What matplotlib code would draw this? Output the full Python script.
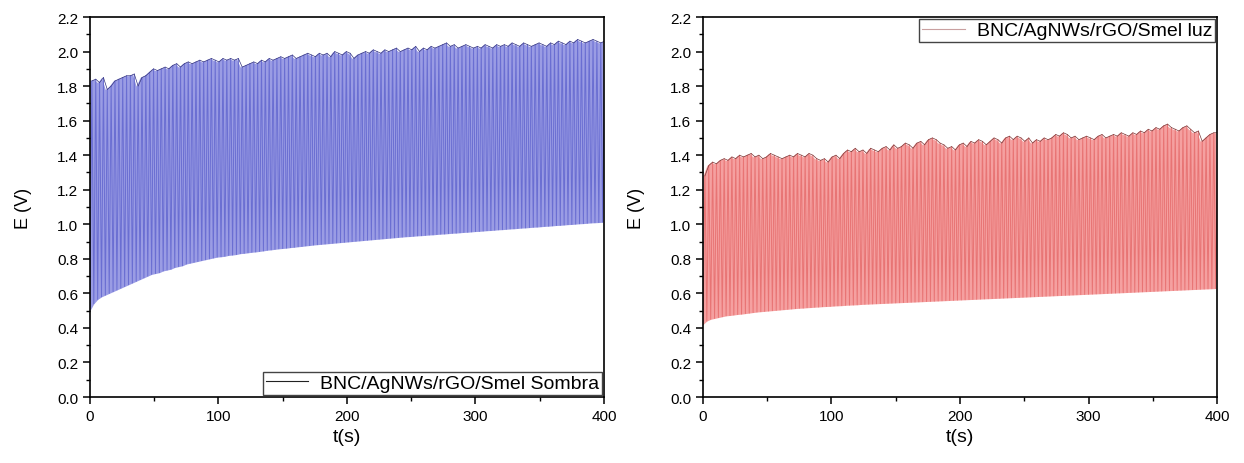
import numpy as np
import matplotlib.pyplot as plt
from matplotlib.lines import Line2D
from matplotlib.ticker import MultipleLocator

plt.rcParams['font.family'] = ['Liberation Sans', 'DejaVu Sans']

# one charge/discharge cycle every 3 s: trough at t, peak half a period later
period = 3.0

# left panel (Sombra): peak and trough of every cycle
sombra_peak = [
    1.83, 1.84, 1.82, 1.85, 1.78, 1.80, 1.83, 1.84, 1.85, 1.86,
    1.86, 1.87, 1.80, 1.85, 1.86, 1.88, 1.90, 1.89, 1.90, 1.91,
    1.90, 1.92, 1.93, 1.91, 1.93, 1.94, 1.93, 1.94, 1.95, 1.94,
    1.95, 1.96, 1.95, 1.94, 1.96, 1.95, 1.96, 1.95, 1.96, 1.91,
    1.92, 1.93, 1.94, 1.93, 1.95, 1.94, 1.96, 1.95, 1.96, 1.97,
    1.96, 1.97, 1.98, 1.96, 1.97, 1.98, 1.99, 1.98, 1.97, 1.99,
    1.98, 1.99, 1.97, 2.00, 1.99, 1.98, 2.00, 1.99, 1.96, 1.98,
    1.99, 2.00, 1.99, 2.01, 2.00, 1.99, 2.01, 2.00, 2.01, 2.02,
    2.00, 2.01, 2.02, 2.01, 2.03, 2.00, 2.02, 2.01, 2.03, 2.02,
    2.03, 2.04, 2.05, 2.03, 2.04, 2.02, 2.03, 2.04, 2.03, 2.02,
    2.03, 2.02, 2.04, 2.03, 2.02, 2.04, 2.03, 2.04, 2.03, 2.05,
    2.04, 2.03, 2.05, 2.04, 2.03, 2.04, 2.05, 2.04, 2.03, 2.05,
    2.04, 2.06, 2.05, 2.04, 2.06, 2.05, 2.07, 2.06, 2.05, 2.06,
    2.07, 2.06, 2.05, 2.06,
]
sombra_trough = [
    0.500, 0.540, 0.565, 0.580, 0.590, 0.600, 0.610, 0.620, 0.630, 0.640,
    0.650, 0.660, 0.670, 0.680, 0.690, 0.700, 0.710, 0.715, 0.720, 0.730,
    0.735, 0.740, 0.750, 0.755, 0.760, 0.770, 0.775, 0.780, 0.785, 0.790,
    0.795, 0.800, 0.805, 0.810, 0.812, 0.815, 0.820, 0.822, 0.825, 0.830,
    0.832, 0.835, 0.838, 0.840, 0.843, 0.846, 0.850, 0.852, 0.855, 0.858,
    0.860, 0.862, 0.865, 0.867, 0.870, 0.872, 0.875, 0.877, 0.880, 0.882,
    0.884, 0.886, 0.888, 0.890, 0.892, 0.894, 0.896, 0.898, 0.900, 0.902,
    0.904, 0.906, 0.908, 0.910, 0.912, 0.914, 0.916, 0.918, 0.920, 0.922,
    0.924, 0.926, 0.928, 0.929, 0.931, 0.933, 0.934, 0.936, 0.938, 0.939,
    0.941, 0.943, 0.944, 0.946, 0.948, 0.949, 0.951, 0.953, 0.954, 0.956,
    0.958, 0.959, 0.961, 0.963, 0.964, 0.966, 0.968, 0.969, 0.971, 0.973,
    0.974, 0.976, 0.978, 0.979, 0.981, 0.983, 0.984, 0.986, 0.988, 0.989,
    0.991, 0.993, 0.994, 0.996, 0.998, 0.999, 1.001, 1.003, 1.004, 1.006,
    1.008, 1.009, 1.010, 1.012,
]

# right panel (luz)
luz_peak = [
    1.28, 1.34, 1.36, 1.35, 1.37, 1.38, 1.37, 1.39, 1.38, 1.40,
    1.39, 1.40, 1.41, 1.39, 1.40, 1.38, 1.39, 1.41, 1.40, 1.39,
    1.38, 1.39, 1.40, 1.39, 1.41, 1.40, 1.39, 1.41, 1.40, 1.38,
    1.37, 1.38, 1.36, 1.39, 1.40, 1.38, 1.41, 1.43, 1.42, 1.44,
    1.42, 1.43, 1.41, 1.44, 1.43, 1.42, 1.44, 1.45, 1.43, 1.46,
    1.44, 1.45, 1.47, 1.46, 1.44, 1.47, 1.48, 1.46, 1.49, 1.50,
    1.49, 1.47, 1.46, 1.44, 1.45, 1.43, 1.46, 1.47, 1.45, 1.48,
    1.47, 1.49, 1.48, 1.46, 1.48, 1.50, 1.49, 1.47, 1.50, 1.51,
    1.49, 1.51, 1.50, 1.48, 1.50, 1.47, 1.49, 1.48, 1.50, 1.49,
    1.50, 1.52, 1.51, 1.53, 1.52, 1.50, 1.51, 1.49, 1.50, 1.51,
    1.50, 1.49, 1.51, 1.52, 1.50, 1.51, 1.52, 1.51, 1.53, 1.52,
    1.51, 1.53, 1.52, 1.54, 1.53, 1.55, 1.54, 1.56, 1.55, 1.57,
    1.58, 1.56, 1.55, 1.54, 1.56, 1.57, 1.55, 1.53, 1.54, 1.48,
    1.50, 1.52, 1.53, 1.53,
]
luz_trough = [
    0.420, 0.440, 0.450, 0.455, 0.460, 0.465, 0.470, 0.472, 0.475, 0.478,
    0.480, 0.483, 0.486, 0.489, 0.492, 0.494, 0.496, 0.498, 0.500, 0.502,
    0.504, 0.506, 0.508, 0.510, 0.512, 0.514, 0.515, 0.517, 0.518, 0.520,
    0.521, 0.523, 0.524, 0.525, 0.527, 0.528, 0.529, 0.531, 0.532, 0.533,
    0.534, 0.536, 0.537, 0.538, 0.539, 0.540, 0.541, 0.542, 0.543, 0.544,
    0.545, 0.546, 0.547, 0.548, 0.549, 0.550, 0.551, 0.552, 0.553, 0.554,
    0.555, 0.556, 0.557, 0.558, 0.559, 0.560, 0.561, 0.562, 0.563, 0.564,
    0.565, 0.566, 0.567, 0.568, 0.569, 0.570, 0.571, 0.572, 0.573, 0.574,
    0.575, 0.576, 0.577, 0.578, 0.579, 0.580, 0.581, 0.582, 0.583, 0.584,
    0.585, 0.586, 0.587, 0.588, 0.589, 0.590, 0.591, 0.592, 0.593, 0.594,
    0.595, 0.596, 0.597, 0.598, 0.599, 0.600, 0.601, 0.602, 0.603, 0.604,
    0.605, 0.606, 0.607, 0.608, 0.609, 0.610, 0.611, 0.612, 0.613, 0.614,
    0.615, 0.616, 0.617, 0.618, 0.619, 0.620, 0.621, 0.622, 0.623, 0.624,
    0.625, 0.626, 0.627, 0.628,
]

labels = ["BNC/AgNWs/rGO/Smel Sombra", "BNC/AgNWs/rGO/Smel luz"]


def zigzag(trough, peak):
    n = len(trough)
    t0 = np.arange(n) * period
    x = np.empty(2 * n)
    y = np.empty(2 * n)
    x[0::2] = t0
    x[1::2] = t0 + period / 2
    y[0::2] = trough
    y[1::2] = peak
    return t0, x, y


fig = plt.figure(figsize=(12.44, 4.64), dpi=100)
ax1 = fig.add_axes([0.0723, 0.1422, 0.4132, 0.819])
ax2 = fig.add_axes([0.5651, 0.1422, 0.4132, 0.819])

# (axes, troughs, peaks, fill, stripe, top edge, legend line, label, legend loc)
panels = [
    (ax1, sombra_trough, sombra_peak, '#9a9ce4', '#6a6ed2', '#34347e',
     '#222222', labels[0], 'lower right'),
    (ax2, luz_trough, luz_peak, '#f5a0a0', '#e87474', '#7a3838',
     '#c9a0a0', labels[1], 'upper right'),
]

for ax, lo, hi, fillc, linec, topc, legcol, lab, loc in panels:
    t0, x, y = zigzag(lo, hi)
    ax.fill_between(t0, lo, hi, color=fillc, lw=0)
    ax.plot(x, y, color=linec, lw=0.7)
    ax.plot(t0 + period / 2, hi, color=topc, lw=0.5)
    ax.set_xlim(0, 400)
    ax.set_ylim(0, 2.2)
    ax.xaxis.set_major_locator(MultipleLocator(100))
    ax.xaxis.set_minor_locator(MultipleLocator(50))
    ax.yaxis.set_major_locator(MultipleLocator(0.2))
    ax.yaxis.set_minor_locator(MultipleLocator(0.1))
    ax.yaxis.set_major_formatter(plt.FormatStrFormatter('%.1f'))
    ax.tick_params(which='major', direction='out', length=5, width=1.1, labelsize=11)
    ax.tick_params(which='minor', direction='out', length=3, width=1.0)
    for sp in ax.spines.values():
        sp.set_linewidth(1.2)
    ax.set_xlabel('t(s)', fontsize=14, labelpad=4)
    ax.set_ylabel('E (V)', fontsize=13, labelpad=18)
    handle = Line2D([], [], color=legcol, lw=0.8)
    leg = ax.legend([handle], [lab], loc=loc, fontsize=14, fancybox=False,
                    borderaxespad=0.1, handlelength=2.2, borderpad=0.15,
                    handletextpad=0.6, framealpha=1)
    leg.get_frame().set_edgecolor('#444444')
    leg.get_frame().set_linewidth(1.0)

fig.savefig('out.png', dpi=100)
